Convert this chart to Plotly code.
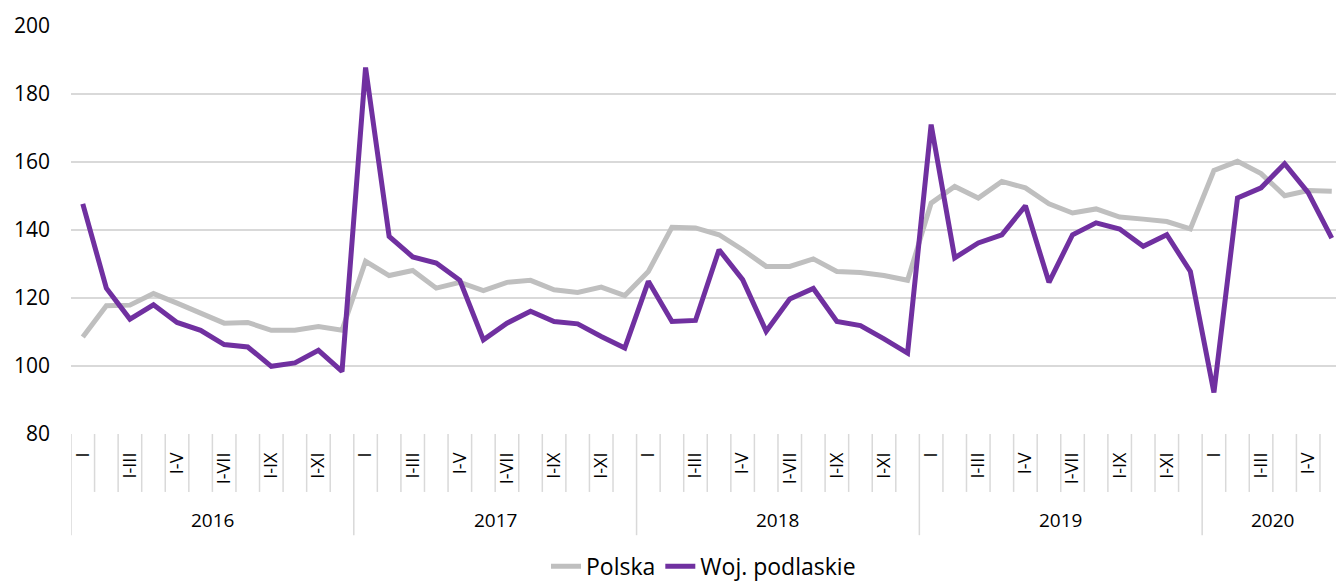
import plotly.graph_objects as go

# values, Jan 2016 .. Jun 2020
years = ["2016", "2017", "2018", "2019", "2020"]
months_in_year = [12, 12, 12, 12, 6]
month_labels = ["I", "", "I-III", "", "I-V", "", "I-VII", "", "I-IX", "", "I-XI", ""]

polska = [108.5, 117.7, 117.9, 121.3, 118.5, 115.6, 112.6, 112.8, 110.5, 110.5, 111.6, 110.5,
          130.8, 126.6, 128.1, 122.9, 124.6, 122.2, 124.6, 125.2, 122.4, 121.6, 123.2, 120.7,
          127.8, 140.8, 140.6, 138.6, 134.2, 129.3, 129.3, 131.5, 127.8, 127.5, 126.6, 125.2,
          147.9, 152.8, 149.4, 154.3, 152.4, 147.7, 145.0, 146.2, 143.8, 143.2, 142.5, 140.3,
          157.5, 160.2, 156.6, 150.1, 151.6, 151.4]

podlaskie = [147.7, 122.9, 113.8, 118.0, 112.8, 110.5, 106.3, 105.6, 99.9, 100.9, 104.6, 98.4,
             187.8, 138.1, 132.1, 130.3, 125.2, 107.7, 112.6, 116.1, 113.1, 112.4, 108.7, 105.3,
             124.9, 113.1, 113.4, 134.2, 125.4, 110.2, 119.7, 122.8, 113.1, 111.9, 108.0, 103.8,
             171.0, 131.8, 136.2, 138.6, 147.1, 124.6, 138.6, 142.1, 140.3, 135.2, 138.6, 127.8,
             92.2, 149.4, 152.4, 159.5, 151.0, 137.6]

GRID = "#d9d9d9"
FONT = "Open Sans"

n = len(polska)
x = list(range(n))
ticktext = []
for cnt in months_in_year:
    ticktext += month_labels[:cnt]

fig = go.Figure()
fig.add_trace(go.Scatter(x=x, y=polska, mode="lines", name="Polska",
                         line=dict(color="#bfbfbf", width=5)))
fig.add_trace(go.Scatter(x=x, y=podlaskie, mode="lines", name="Woj. podlaskie",
                         line=dict(color="#7030a0", width=5)))

# separators between months (short) and years (long)
shapes = []
annotations = []
start = 0
year_starts = set()
for yr, cnt in zip(years, months_in_year):
    year_starts.add(start)
    annotations.append(dict(x=start + (cnt - 1) / 2, y=-0.211, xref="x", yref="paper",
                            text=yr, showarrow=False, yanchor="middle",
                            font=dict(family=FONT, size=19, color="#000")))
    start += cnt
for k in range(n):
    y1 = -0.248 if k in year_starts else -0.142
    shapes.append(dict(type="line", xref="x", yref="paper", x0=k - 0.5, x1=k - 0.5,
                       y0=0, y1=y1, line=dict(color=GRID, width=1.5)))

fig.update_layout(
    width=1336, height=581,
    margin=dict(l=71, r=0, t=26, b=147, autoexpand=False),
    paper_bgcolor="white", plot_bgcolor="white",
    shapes=shapes, annotations=annotations,
    showlegend=True,
    legend=dict(orientation="h", x=0.5, xanchor="center", y=-0.324, yanchor="middle",
                font=dict(family=FONT, size=23, color="#000"), itemwidth=30,
                traceorder="normal"),
    xaxis=dict(range=[-0.5, 53.18], tickmode="array", tickvals=x, ticktext=ticktext,
               tickangle=-90, showgrid=False, zeroline=False, showline=False, ticks="",
               ticklabelstandoff=14, automargin=False,
               tickfont=dict(family=FONT, size=18, color="#000")),
    yaxis=dict(range=[80, 200], dtick=20, showgrid=True, gridcolor=GRID, gridwidth=1.5,
               zeroline=False, showline=False, ticks="", ticklabelstandoff=20,
               automargin=False, tickfont=dict(family=FONT, size=21, color="#000")),
)

fig.write_html("out.html", config={"displayModeBar": False},
               post_script="document.body.style.margin='0px';")
